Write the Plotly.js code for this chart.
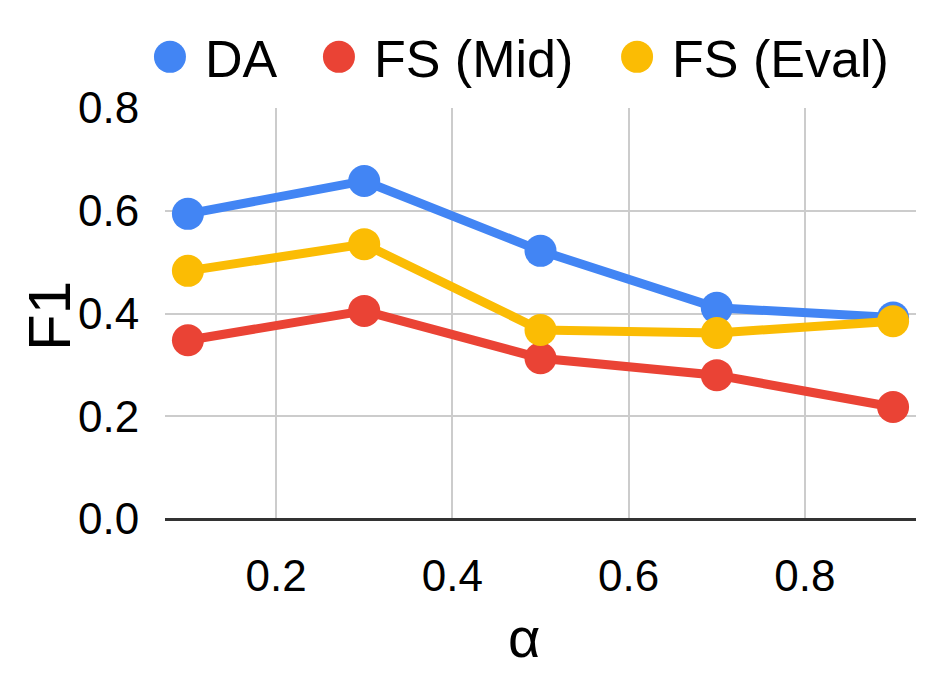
<!DOCTYPE html>
<html>
<head>
<meta charset="utf-8">
<script src="https://cdn.plot.ly/plotly-3.0.1.min.js"></script>
<style>
  html, body { margin: 0; padding: 0; background: #fff; }
  #chart { width: 952px; height: 673px; }
</style>
</head>
<body>
<div id="chart"></div>
<script>
const alphas = [0.1, 0.3, 0.5, 0.7, 0.9];
const daF1 = [0.594, 0.658, 0.522, 0.411, 0.392];
const fsMidF1 = [0.348, 0.405, 0.313, 0.280, 0.218];
const fsEvalF1 = [0.483, 0.535, 0.368, 0.362, 0.385];
const seriesNames = ['DA', 'FS (Mid)', 'FS (Eval)'];
const seriesColors = ['#4285F4', '#EA4335', '#FBBC04'];
const xTicks = [0.2, 0.4, 0.6, 0.8];
const yTicks = [0.0, 0.2, 0.4, 0.6, 0.8];

const FONT = 'Liberation Sans, Arial, sans-serif';
const legendIds = ['legend', 'legend2', 'legend3'];
const legendX = [-0.04, 0.185, 0.582];

function lineTrace(y, i) {
  return {
    x: alphas,
    y: y,
    name: seriesNames[i],
    type: 'scatter',
    mode: 'lines+markers',
    line: { color: seriesColors[i], width: 9 },
    marker: { color: seriesColors[i], size: 32 },
    cliponaxis: false,
    showlegend: false
  };
}

// legend entries: dots only, like the original
function legendTrace(i) {
  return {
    x: [null],
    y: [null],
    name: seriesNames[i],
    type: 'scatter',
    mode: 'markers',
    marker: { color: seriesColors[i], size: 16 },
    legend: legendIds[i],
    showlegend: true
  };
}

function legendBox(i) {
  return {
    orientation: 'h',
    x: legendX[i],
    xanchor: 'left',
    y: 1.124,
    yanchor: 'middle',
    font: { family: FONT, size: 52, color: '#000' },
    itemwidth: 60,
    bgcolor: 'rgba(0,0,0,0)'
  };
}

const data = [
  lineTrace(daF1, 0),
  lineTrace(fsMidF1, 1),
  lineTrace(fsEvalF1, 2),
  legendTrace(0),
  legendTrace(1),
  legendTrace(2)
];

const layout = {
  width: 952,
  height: 673,
  margin: { l: 165, r: 36, t: 108, b: 154 },
  paper_bgcolor: '#fff',
  plot_bgcolor: '#fff',
  font: { family: FONT, color: '#000', size: 44 },
  showlegend: true,
  legend: legendBox(0),
  legend2: legendBox(1),
  legend3: legendBox(2),
  xaxis: {
    range: [0.074, 0.926],
    tickvals: xTicks,
    tickformat: '.1f',
    showgrid: true,
    gridcolor: '#cccccc',
    gridwidth: 2,
    zeroline: false,
    showline: false,
    ticks: 'outside',
    ticklen: 18,
    tickcolor: 'rgba(0,0,0,0)',
    tickfont: { family: FONT, size: 44, color: '#000' }
  },
  yaxis: {
    range: [0, 0.8],
    tickvals: yTicks,
    tickformat: '.1f',
    showgrid: true,
    gridcolor: '#cccccc',
    gridwidth: 2,
    zeroline: true,
    zerolinecolor: '#333333',
    zerolinewidth: 3,
    showline: false,
    ticks: 'outside',
    ticklen: 16,
    tickcolor: 'rgba(0,0,0,0)',
    tickfont: { family: FONT, size: 44, color: '#000' }
  },
  // axis titles placed by hand to sit where the original has them
  annotations: [
    {
      text: 'α', xref: 'paper', yref: 'paper',
      x: (524 - 165) / 751, y: -(637 - 519) / 411,
      xanchor: 'center', yanchor: 'middle', showarrow: false,
      font: { family: FONT, size: 56, color: '#000' }
    },
    {
      text: 'F1', xref: 'paper', yref: 'paper', textangle: -90,
      x: (49 - 165) / 751, y: (519 - 316) / 411,
      xanchor: 'center', yanchor: 'middle', showarrow: false,
      font: { family: FONT, size: 60, color: '#000' }
    }
  ]
};

Plotly.newPlot('chart', data, layout, { displayModeBar: false, staticPlot: true }).then(function (gd) {
  // make legend dots as large as in the original
  gd.querySelectorAll('.legendpoints path.scatterpts').forEach(function (p) {
    const t = p.getAttribute('transform') || '';
    p.setAttribute('transform', t + ' scale(2)');
  });
});
</script>
</body>
</html>
